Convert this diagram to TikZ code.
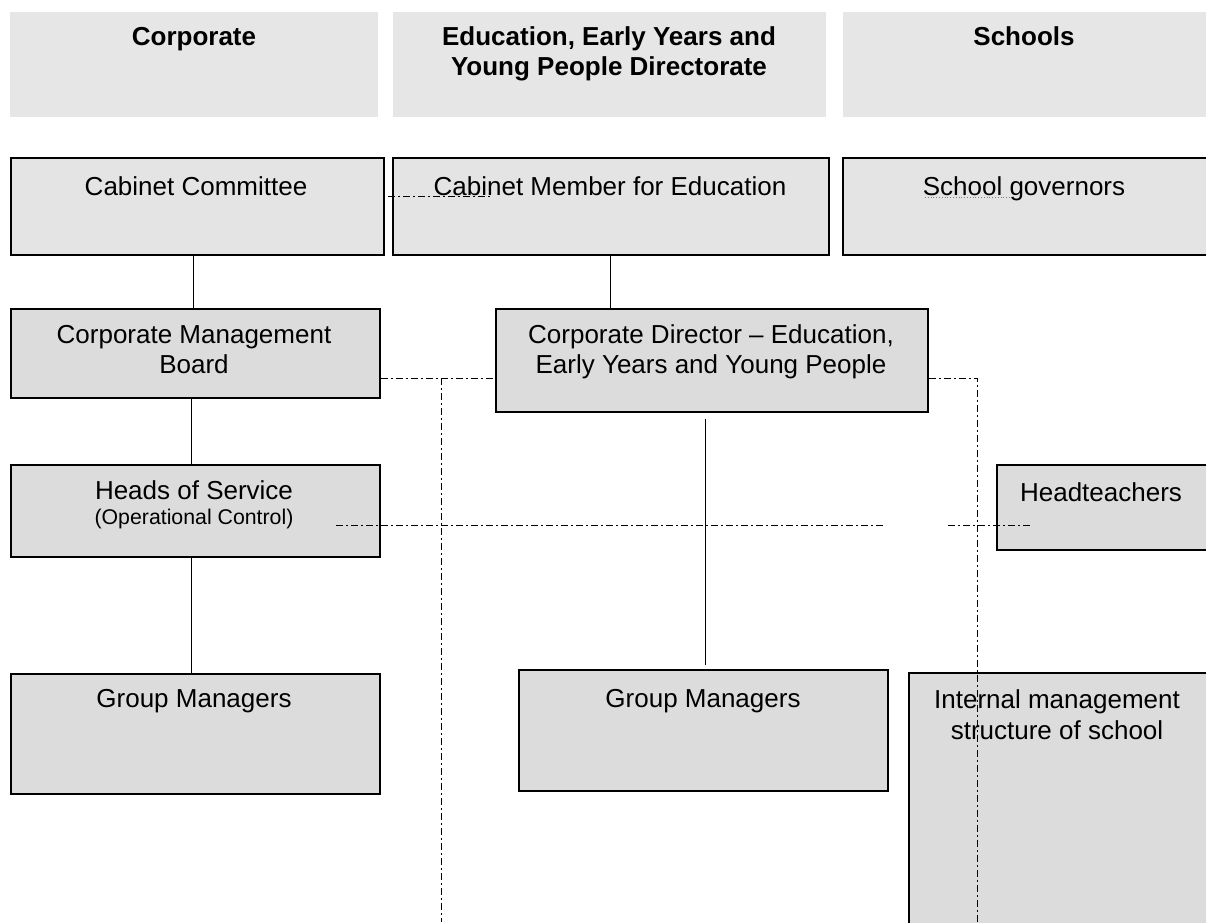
\documentclass[tikz,border=0pt]{standalone}
\usepackage{fontspec}
\setmainfont{Liberation Sans}
\definecolor{hdr}{HTML}{E6E6E6}
\definecolor{lite}{HTML}{E4E4E4}
\definecolor{dark}{HTML}{DCDCDC}
\begin{document}
\begin{tikzpicture}[x=1pt,y=-1pt,
  hbox/.style={fill=hdr,draw=none,anchor=north west,inner sep=0pt},
  box/.style={fill=dark,draw=black,line width=1.6pt,anchor=north west,inner sep=0pt},
  lbox/.style={box,fill=lite},
  txt/.style={anchor=base,inner sep=0pt,font=\fontsize{26}{30}\selectfont},
  btxt/.style={txt,font=\fontsize{26}{30}\selectfont\bfseries},
  stxt/.style={txt,font=\fontsize{21.3}{24}\selectfont},
  solid link/.style={line width=1pt},
  dd/.style={line width=1pt,dash pattern=on 7pt off 3pt on 2pt off 3pt}
]
\useasboundingbox (0,0) rectangle (1206,922);
\clip (0,0) rectangle (1206,922);
% headers
\node[hbox,minimum width=368pt,minimum height=105pt] (hc) at (10,12) {};
\node[hbox,minimum width=433pt,minimum height=105pt] (he) at (393,12) {};
\node[hbox,minimum width=380pt,minimum height=105pt] (hs) at (843,12) {};
\node[btxt] (thc) at (194,45) {Corporate};
\node[btxt] (the1) at (609,45) {Education, Early Years and};
\node[btxt] (the2) at (609,75) {Young People Directorate};
\node[btxt] (ths) at (1024,45) {Schools};
% boxes
\node[lbox,minimum width=373pt,minimum height=97pt] (cc) at (10,157) {};
\node[lbox,minimum width=436pt,minimum height=97pt] (cm) at (392,157) {};
\node[lbox,minimum width=390pt,minimum height=97pt] (sg) at (842,157) {};
\node[box,minimum width=369pt,minimum height=89pt] (cmb) at (10,308) {};
\node[box,minimum width=432pt,minimum height=103pt] (cd) at (495,308) {};
\node[box,minimum width=369pt,minimum height=92pt] (hos) at (10,464) {};
\node[box,minimum width=240pt,minimum height=85pt] (ht) at (996,464) {};
\node[box,minimum width=369pt,minimum height=120pt] (gm1) at (10,673) {};
\node[box,minimum width=369pt,minimum height=121pt] (gm2) at (518,669) {};
\node[box,minimum width=330pt,minimum height=280pt] (ims) at (908,672) {};
% texts
\node[txt] (tcc) at (196,195) {Cabinet Committee};
\node[txt] (tcm) at (610,195) {Cabinet Member for Education};
\node[txt] (tsg) at (1024,195) {School governors};
\node[txt] (tcmb1) at (194,343) {Corporate Management};
\node[txt] (tcmb2) at (194,373) {Board};
\node[txt] (tcd1) at (711,343) {Corporate Director – Education,};
\node[txt] (tcd2) at (711,373) {Early Years and Young People};
\node[txt] (thos1) at (194,499) {Heads of Service};
\node[stxt] (thos2) at (194,524) {(Operational Control)};
\node[txt] (tht) at (1101,501) {Headteachers};
\node[txt] (tgm1) at (194,707) {Group Managers};
\node[txt] (tgm2) at (703,707) {Group Managers};
\node[txt] (tims1) at (1057,708) {Internal management};
\node[txt] (tims2) at (1057,739) {structure of school};
% solid links
\draw[solid link] (cc.south -| 193,0) -- (cmb.north -| 193,0);
\draw[solid link] (cm.south) -- (cm.south |- cd.north);
\draw[solid link] (cmb.south -| 191,0) -- (hos.north -| 191,0);
\draw[solid link] (hos.south -| 191,0) -- (gm1.north -| 191,0);
\draw[solid link] ([xshift=-6pt,yshift=-6pt]cd.south) -- ([xshift=2.5pt,yshift=4pt]gm2.north);
% dash-dot links
\coordinate (j1) at (441,378);
\coordinate (b1) at (441,922);
\coordinate (j2) at (977,378);
\coordinate (b2) at (977,922);
\draw[dd] (cmb.east |- j1) -- (cd.west |- j1);
\draw[dd] (j1) -- (b1);
\draw[dd] (cd.east |- j2) -- (j2) -- (b2);
\coordinate (h1) at (336,525);
\coordinate (h2) at (884,525);
\coordinate (h3) at (948,525);
\coordinate (h4) at (1030,525);
\draw[dd] (h1) -- (h2);
\draw[dd] (h3) -- (h4);
\coordinate (c1) at (388,196);
\coordinate (c2) at (490,196);
\draw[dd,line width=0.8pt] (c1) -- (c2);
\coordinate (s1) at (925,197);
\coordinate (s2) at (1010,197);
\draw[gray,line width=0.8pt,dotted] (s1) -- (s2);
\end{tikzpicture}
\end{document}
